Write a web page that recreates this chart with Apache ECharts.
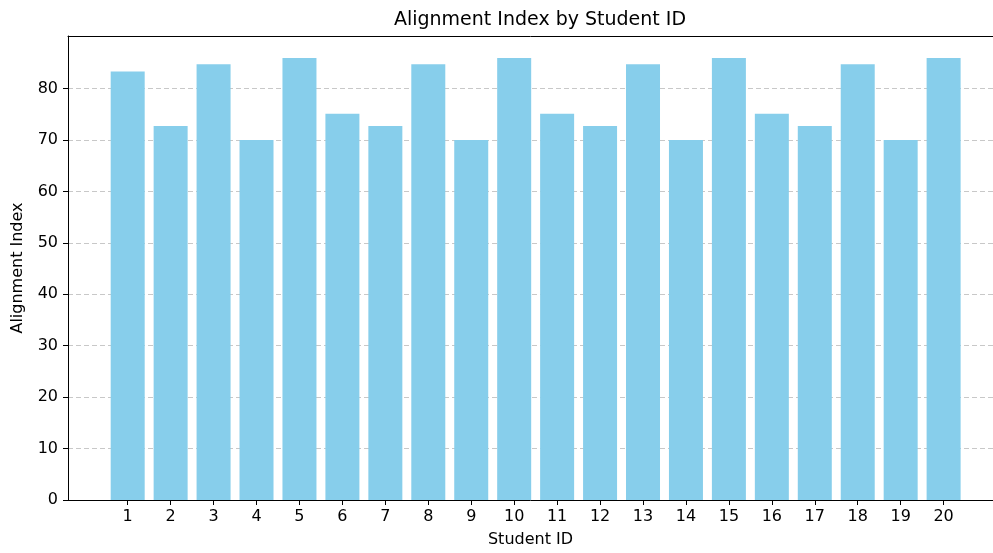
<!DOCTYPE html>
<html>
<head>
<meta charset="utf-8">
<script src="https://cdn.jsdelivr.net/npm/echarts@6/dist/echarts.min.js"></script>
<style>
  html, body { margin: 0; padding: 0; background: #fff; }
  #chart { width: 993px; height: 553px; }
</style>
</head>
<body>
<div id="chart"></div>
<script>
// data
var studentIds = [1, 2, 3, 4, 5, 6, 7, 8, 9, 10, 11, 12, 13, 14, 15, 16, 17, 18, 19, 20];
var alignmentIndex = [83.3, 72.7, 84.7, 70.0, 85.9, 75.1, 72.7, 84.7, 70.0, 85.9,
                      75.1, 72.7, 84.7, 70.0, 85.9, 75.1, 72.7, 84.7, 70.0, 85.9];
var yTicks = [0, 10, 20, 30, 40, 50, 60, 70, 80];

(function() {
  var myChart = echarts.init(document.getElementById('chart'));
  var font = 'DejaVu Sans';

  var barData = studentIds.map(function(id, i) {
    return [id, alignmentIndex[i]];
  });

  var option = {
    animation: false,
    textStyle: { fontFamily: font },
    title: {
      text: 'Alignment Index by Student ID',
      left: 535,
      textAlign: 'center',
      top: 6,
      textStyle: { fontFamily: font, fontSize: 19, fontWeight: 'normal', color: '#000' }
    },
    grid: {
      left: 68,
      top: 36,
      right: 0,
      bottom: 52
    },
    xAxis: [
      {
        type: 'value',
        min: -0.39,
        max: 21.15,
        name: 'Student ID',
        nameLocation: 'middle',
        nameGap: 32,
        nameTextStyle: { fontFamily: font, fontSize: 16, color: '#000' },
        axisLine: { show: true, onZero: false, lineStyle: { color: '#000', width: 1 } },
        axisTick: { show: true, customValues: studentIds, length: 5, lineStyle: { color: '#000' } },
        axisLabel: { customValues: studentIds, margin: 9, fontSize: 16, color: '#000', fontFamily: font },
        splitLine: { show: false }
      },
      {
        // top spine only
        type: 'value',
        position: 'top',
        min: -0.39,
        max: 21.15,
        axisLine: { show: true, onZero: false, lineStyle: { color: '#000', width: 1 } },
        axisTick: { show: false },
        axisLabel: { show: false },
        splitLine: { show: false }
      }
    ],
    yAxis: {
      type: 'value',
      min: 0,
      max: 90.2,
      interval: 10,
      name: 'Alignment Index',
      nameLocation: 'middle',
      nameGap: 42,
      nameTextStyle: { fontFamily: font, fontSize: 16, color: '#000' },
      axisLine: { show: true, onZero: false, lineStyle: { color: '#000', width: 1 } },
      axisTick: { show: true, customValues: yTicks, length: 5, lineStyle: { color: '#000' } },
      axisLabel: { customValues: yTicks, margin: 10, fontSize: 16, color: '#000', fontFamily: font },
      splitLine: { show: true, lineStyle: { color: '#c8c8c8', type: [5, 3], width: 1 } }
    },
    series: [
      {
        type: 'bar',
        data: barData,
        barWidth: 34,
        itemStyle: { color: '#87CEEB' }
      }
    ]
  };

  myChart.setOption(option);
  window.addEventListener('resize', function() {
    myChart.resize();
  });
})();
</script>
</body>
</html>
